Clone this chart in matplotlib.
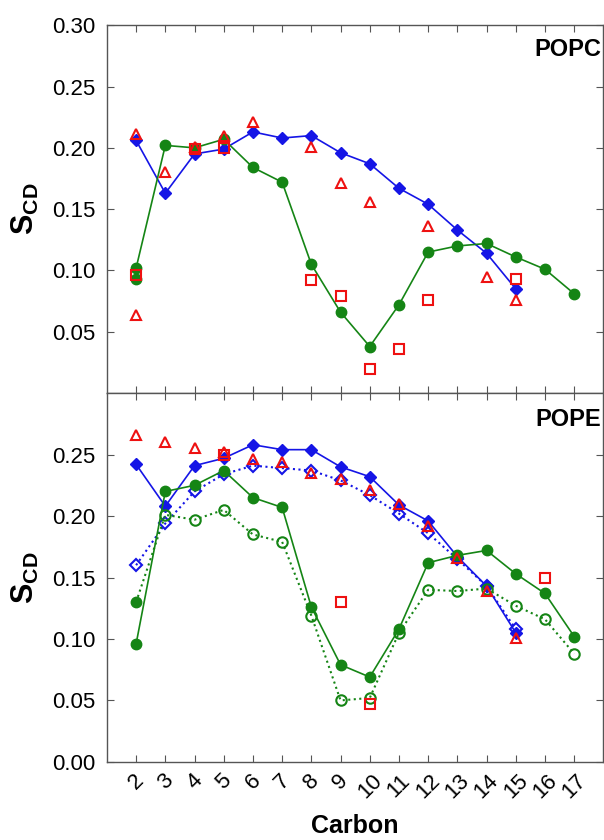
import numpy as np
import matplotlib
matplotlib.use("Agg")
import matplotlib.pyplot as plt

plt.rcParams['font.family'] = ['Liberation Sans', 'DejaVu Sans']
plt.rcParams['mathtext.fontset'] = 'custom'
plt.rcParams['mathtext.rm'] = 'Liberation Sans'
plt.rcParams['mathtext.bf'] = 'Liberation Sans:bold'

carbons = np.arange(2, 18)

# POPC
popc_blue = [0.206, 0.163, 0.195, 0.199, 0.213, 0.208, 0.210, 0.196, 0.187, 0.167, 0.154, 0.133, 0.114, 0.085]
popc_green = [0.102, 0.202, 0.200, 0.207, 0.184, 0.172, 0.105, 0.066, 0.038, 0.072, 0.115, 0.120, 0.122, 0.111, 0.101, 0.081]
popc_green_extra_x = [2]
popc_green_extra = [0.093]
popc_tri_x = [2, 2, 3, 4, 5, 6, 8, 9, 10, 12, 14, 15]
popc_tri = [0.211, 0.064, 0.180, 0.201, 0.210, 0.221, 0.201, 0.171, 0.156, 0.136, 0.095, 0.076]
popc_sq_x = [2, 4, 5, 8, 9, 10, 11, 12, 15]
popc_sq = [0.096, 0.199, 0.200, 0.092, 0.079, 0.020, 0.036, 0.076, 0.093]

# POPE
pope_blue = [0.242, 0.208, 0.241, 0.247, 0.258, 0.254, 0.254, 0.240, 0.232, 0.209, 0.196, 0.167, 0.143, 0.105]
pope_blue_open = [0.160, 0.194, 0.220, 0.234, 0.241, 0.239, 0.237, 0.229, 0.217, 0.202, 0.186, 0.165, 0.143, 0.108]
pope_green = [0.096, 0.220, 0.225, 0.237, 0.215, 0.207, 0.126, 0.079, 0.069, 0.108, 0.162, 0.168, 0.172, 0.153, 0.137, 0.102]
pope_green_open = [0.130, 0.201, 0.197, 0.205, 0.185, 0.179, 0.119, 0.050, 0.052, 0.105, 0.140, 0.139, 0.141, 0.127, 0.116, 0.088]
pope_tri_x = [2, 3, 4, 5, 6, 7, 8, 9, 10, 11, 12, 13, 14, 15]
pope_tri = [0.266, 0.260, 0.255, 0.252, 0.246, 0.244, 0.235, 0.230, 0.221, 0.210, 0.192, 0.166, 0.139, 0.101]
pope_sq_x = [5, 9, 10, 16]
pope_sq = [0.250, 0.130, 0.047, 0.150]

blue = '#1515e6'
green = '#158515'
red = '#ee1111'
ms = 7.5

fig = plt.figure(figsize=(6.04, 8.40), dpi=100)
ax1 = fig.add_axes([0.177, 0.532, 0.822, 0.438])
ax2 = fig.add_axes([0.177, 0.093, 0.822, 0.439])

# top panel
ax1.plot(carbons[:14], popc_blue, '-D', color=blue, ms=ms-1, lw=1.2)
ax1.plot(carbons, popc_green, '-o', color=green, ms=ms, lw=1.2)
ax1.plot(popc_green_extra_x, popc_green_extra, 'o', color=green, ms=ms)
ax1.plot(popc_sq_x, popc_sq, 's', mfc='none', mec=red, mew=1.5, ms=ms)
ax1.plot(popc_tri_x, popc_tri, '^', mfc='none', mec=red, mew=1.5, ms=ms)

# bottom panel
ax2.plot(carbons[:14], pope_blue_open, ':D', color=blue, mfc='none', mew=1.5, ms=ms-1, lw=1.5)
ax2.plot(carbons[:14], pope_blue, '-D', color=blue, ms=ms-1, lw=1.2)
ax2.plot(carbons[1:], pope_green_open[1:], 'o', color=green, mfc='none', mew=1.5, ms=ms)
ax2.plot(carbons, pope_green_open, ':', color=green, lw=1.5)
ax2.plot(carbons[:1], pope_green_open[:1], 'o', color=green, ms=ms)
ax2.plot(carbons, pope_green, '-o', color=green, ms=ms, lw=1.2)
ax2.plot(pope_sq_x, pope_sq, 's', mfc='none', mec=red, mew=1.5, ms=ms)
ax2.plot(pope_tri_x, pope_tri, '^', mfc='none', mec=red, mew=1.5, ms=ms)

for ax in (ax1, ax2):
    ax.set_xlim(1, 18)
    ax.set_ylim(0, 0.30)
    ax.set_xticks(carbons)
    ax.tick_params(direction='in', length=5, width=0.8, color='#555555',
                   top=True, right=True, labelsize=16)
    ax.tick_params(axis='y', pad=8)
    ax.tick_params(axis='x', pad=6)
    for s in ax.spines.values():
        s.set_color('#555555')
        s.set_linewidth(1.0)
    ax.set_ylabel(r'$\mathbf{S}_{\mathbf{CD}}$', fontsize=22, labelpad=8)

ax1.set_yticks([0.05, 0.10, 0.15, 0.20, 0.25, 0.30])
ax1.set_yticklabels(['0.05', '0.10', '0.15', '0.20', '0.25', '0.30'])
ax1.tick_params(labelbottom=False)
ax2.set_yticks([0.00, 0.05, 0.10, 0.15, 0.20, 0.25])
ax2.set_yticklabels(['0.00', '0.05', '0.10', '0.15', '0.20', '0.25'])
ax2.set_xticklabels([str(c) for c in carbons], rotation=45)
ax2.set_xlabel('Carbon', fontsize=18, fontweight='bold', labelpad=8)

ax1.text(0.995, 0.965, 'POPC', transform=ax1.transAxes, ha='right', va='top',
         fontsize=17, fontweight='bold')
ax2.text(0.995, 0.96, 'POPE', transform=ax2.transAxes, ha='right', va='top',
         fontsize=17, fontweight='bold')

plt.savefig('out.png', dpi=100)
